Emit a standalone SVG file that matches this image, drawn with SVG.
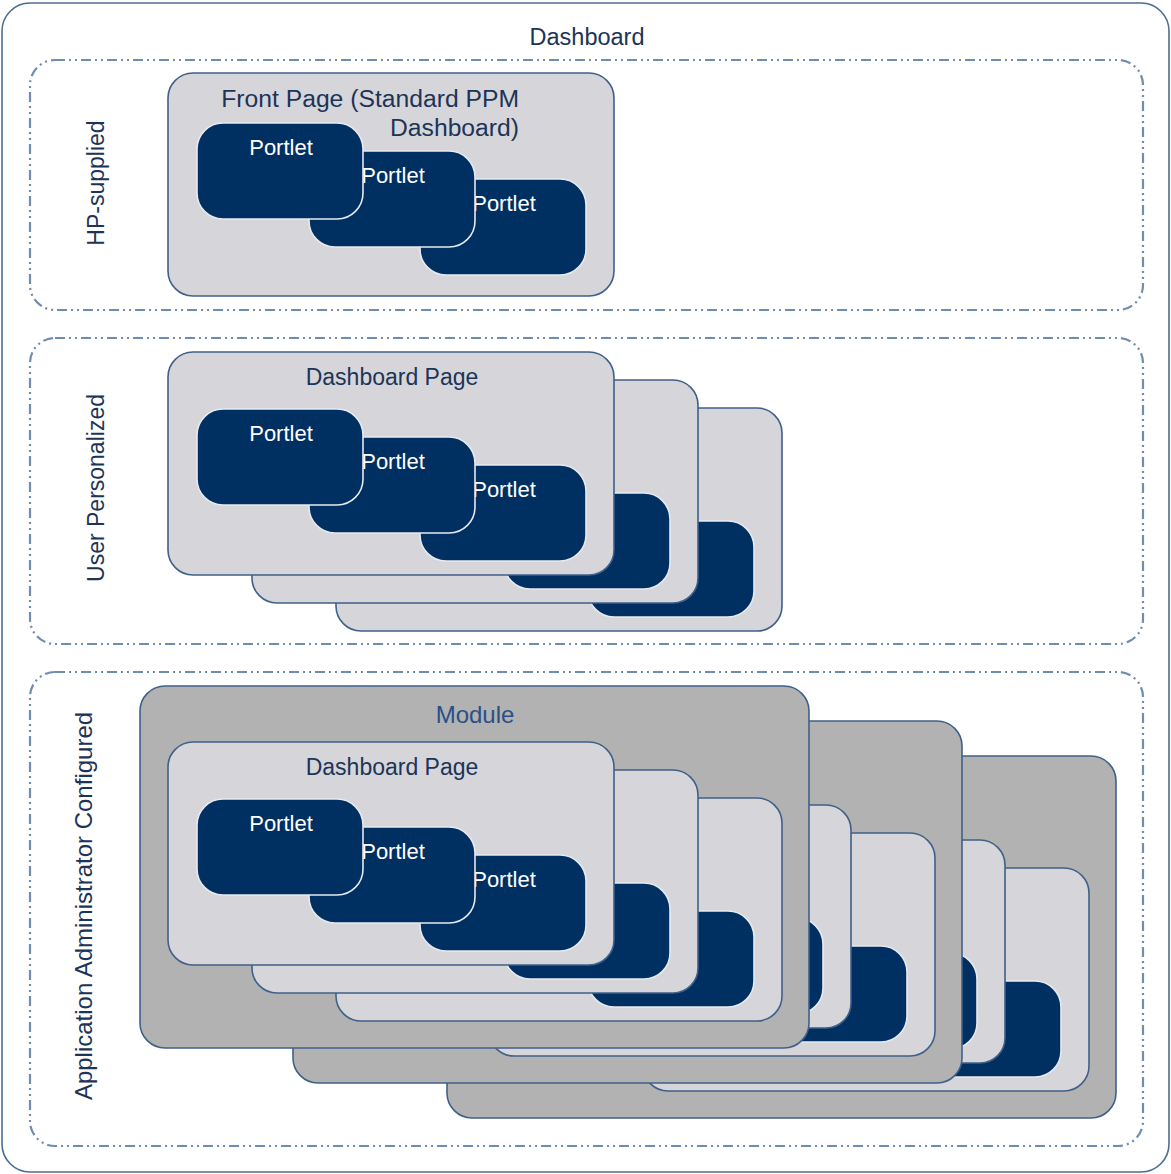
<svg xmlns="http://www.w3.org/2000/svg" width="1171" height="1174" viewBox="0 0 1171 1174">
<style>
text{font-family:"Liberation Sans",Arial,sans-serif;}
.outer{fill:#ffffff;stroke:#4c6d93;stroke-width:1.6;}
.sec{fill:none;stroke:#6f8daf;stroke-width:2.2;stroke-dasharray:10 4 2 4 2 4;}
.mod{fill:#b2b2b2;stroke:#3f6089;stroke-width:1.6;}
.page{fill:#d6d6da;stroke:#3f6089;stroke-width:1.6;}
.port{fill:#002f61;stroke:#e6eaf0;stroke-width:1.6;}
.lbl{fill:#1c3457;}
.plbl{fill:#ffffff;font-size:22px;text-anchor:middle;}
.modl{fill:#2a5086;font-size:24px;text-anchor:middle;}
</style>
<g id="dashboard">
<rect class="outer" x="2" y="3" width="1167" height="1169" rx="28"/>
<text class="lbl" x="587" y="45" font-size="23.5" text-anchor="middle">Dashboard</text>
</g>

<g id="hp-supplied">
<rect class="sec" x="30" y="60" width="1113" height="250" rx="25"/>
<text class="lbl" transform="translate(104,183) rotate(-90)" font-size="23" text-anchor="middle">HP-supplied</text>
</g>
<g id="front-page">
<rect class="page" x="168" y="73" width="446" height="223" rx="25"/>
<text class="lbl" x="519" y="107" font-size="24.7" text-anchor="end">Front Page (Standard PPM</text>
<text class="lbl" x="519" y="136" font-size="24.7" text-anchor="end">Dashboard)</text>
<rect class="port" x="420" y="179" width="166" height="96" rx="26"/>
<text class="plbl" x="504" y="211">Portlet</text>
<rect class="port" x="309" y="151" width="166" height="96" rx="26"/>
<text class="plbl" x="393" y="183">Portlet</text>
<rect class="port" x="197" y="123" width="166" height="96" rx="26"/>
<text class="plbl" x="281" y="155">Portlet</text>
</g>

<g id="user-personalized">
<rect class="sec" x="30" y="338" width="1113" height="306" rx="25"/>
<text class="lbl" transform="translate(104,488) rotate(-90)" font-size="23" text-anchor="middle">User Personalized</text>
</g>
<g id="user-page-3">
<rect class="page" x="336" y="408" width="446" height="223" rx="25"/>
<rect class="port" x="588" y="521" width="166" height="96" rx="26"/>
<rect class="port" x="477" y="493" width="166" height="96" rx="26"/>
<rect class="port" x="365" y="465" width="166" height="96" rx="26"/>
</g>
<g id="user-page-2">
<rect class="page" x="252" y="380" width="446" height="223" rx="25"/>
<rect class="port" x="504" y="493" width="166" height="96" rx="26"/>
<rect class="port" x="393" y="465" width="166" height="96" rx="26"/>
<rect class="port" x="281" y="437" width="166" height="96" rx="26"/>
</g>
<g id="user-page-1">
<rect class="page" x="168" y="352" width="446" height="223" rx="25"/>
<text class="lbl" x="392" y="385" font-size="23" text-anchor="middle">Dashboard Page</text>
<rect class="port" x="420" y="465" width="166" height="96" rx="26"/>
<text class="plbl" x="504" y="497">Portlet</text>
<rect class="port" x="309" y="437" width="166" height="96" rx="26"/>
<text class="plbl" x="393" y="469">Portlet</text>
<rect class="port" x="197" y="409" width="166" height="96" rx="26"/>
<text class="plbl" x="281" y="441">Portlet</text>
</g>

<g id="admin-configured">
<rect class="sec" x="30" y="672" width="1113" height="474" rx="25"/>
<text class="lbl" transform="translate(92,906) rotate(-90)" font-size="24" text-anchor="middle">Application Administrator Configured</text>
</g>

<g id="module-3">
<rect class="mod" x="447" y="756" width="669" height="362" rx="25"/>
<rect class="page" x="643" y="868" width="446" height="223" rx="25"/>
<rect class="port" x="895" y="981" width="166" height="96" rx="26"/>
<rect class="port" x="784" y="953" width="166" height="96" rx="26"/>
<rect class="port" x="672" y="925" width="166" height="96" rx="26"/>
<rect class="page" x="559" y="840" width="446" height="223" rx="25"/>
<rect class="port" x="811" y="953" width="166" height="96" rx="26"/>
<rect class="port" x="700" y="925" width="166" height="96" rx="26"/>
<rect class="port" x="588" y="897" width="166" height="96" rx="26"/>
<rect class="page" x="475" y="812" width="446" height="223" rx="25"/>
<rect class="port" x="727" y="925" width="166" height="96" rx="26"/>
<rect class="port" x="616" y="897" width="166" height="96" rx="26"/>
<rect class="port" x="504" y="869" width="166" height="96" rx="26"/>
</g>

<g id="module-2">
<rect class="mod" x="293" y="721" width="669" height="362" rx="25"/>
<rect class="page" x="489" y="833" width="446" height="223" rx="25"/>
<rect class="port" x="741" y="946" width="166" height="96" rx="26"/>
<rect class="port" x="630" y="918" width="166" height="96" rx="26"/>
<rect class="port" x="518" y="890" width="166" height="96" rx="26"/>
<rect class="page" x="405" y="805" width="446" height="223" rx="25"/>
<rect class="port" x="657" y="918" width="166" height="96" rx="26"/>
<rect class="port" x="546" y="890" width="166" height="96" rx="26"/>
<rect class="port" x="434" y="862" width="166" height="96" rx="26"/>
<rect class="page" x="321" y="777" width="446" height="223" rx="25"/>
<rect class="port" x="573" y="890" width="166" height="96" rx="26"/>
<rect class="port" x="462" y="862" width="166" height="96" rx="26"/>
<rect class="port" x="350" y="834" width="166" height="96" rx="26"/>
</g>

<g id="module-1">
<rect class="mod" x="140" y="686" width="669" height="362" rx="25"/>
<text class="modl" x="475" y="723">Module</text>
<g id="module-1-page-3">
<rect class="page" x="336" y="798" width="446" height="223" rx="25"/>
<rect class="port" x="588" y="911" width="166" height="96" rx="26"/>
<rect class="port" x="477" y="883" width="166" height="96" rx="26"/>
<rect class="port" x="365" y="855" width="166" height="96" rx="26"/>
</g>
<g id="module-1-page-2">
<rect class="page" x="252" y="770" width="446" height="223" rx="25"/>
<rect class="port" x="504" y="883" width="166" height="96" rx="26"/>
<rect class="port" x="393" y="855" width="166" height="96" rx="26"/>
<rect class="port" x="281" y="827" width="166" height="96" rx="26"/>
</g>
<g id="module-1-page-1">
<rect class="page" x="168" y="742" width="446" height="223" rx="25"/>
<text class="lbl" x="392" y="775" font-size="23" text-anchor="middle">Dashboard Page</text>
<rect class="port" x="420" y="855" width="166" height="96" rx="26"/>
<text class="plbl" x="504" y="887">Portlet</text>
<rect class="port" x="309" y="827" width="166" height="96" rx="26"/>
<text class="plbl" x="393" y="859">Portlet</text>
<rect class="port" x="197" y="799" width="166" height="96" rx="26"/>
<text class="plbl" x="281" y="831">Portlet</text>
</g>
</g>
<g id="connectors"/>
</svg>
